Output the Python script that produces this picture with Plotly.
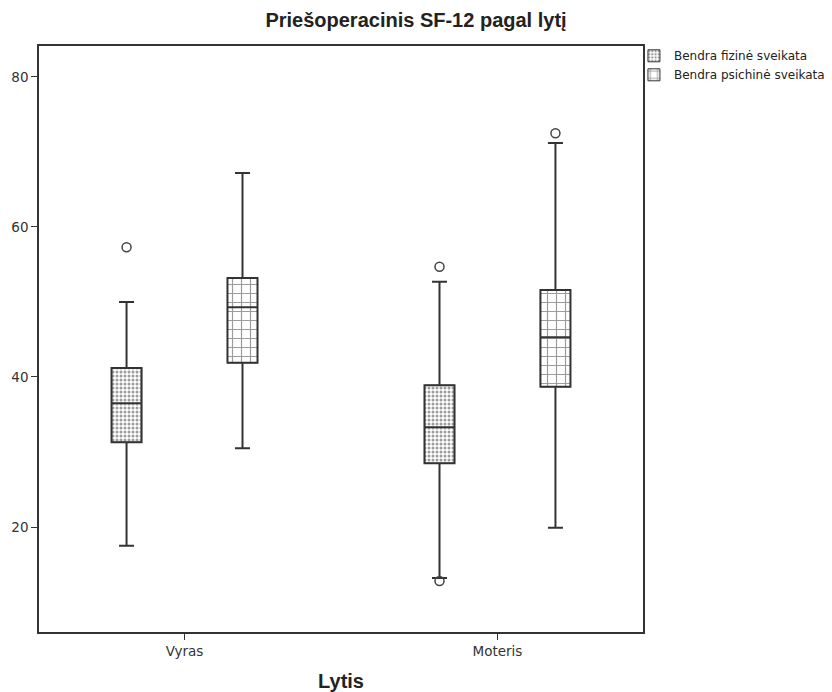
import plotly.graph_objects as go

categories = ["Vyras", "Moteris"]
series_names = ["Bendra fizinė sveikata", "Bendra psichinė sveikata"]

phys_q1 = [31.3, 28.5]
phys_median = [36.5, 33.3]
phys_q3 = [41.2, 38.9]
phys_low = [17.5, 13.2]
phys_up = [50.0, 52.7]
phys_out_x = ["Vyras", "Moteris", "Moteris"]
phys_out_y = [57.3, 54.7, 12.8]

ment_q1 = [41.9, 38.7]
ment_median = [49.3, 45.3]
ment_q3 = [53.2, 51.6]
ment_low = [30.5, 19.9]
ment_up = [67.2, 71.2]
ment_out_x = ["Moteris"]
ment_out_y = [72.5]

y_ticks = [20, 40, 60, 80]

LINE = "#333333"
FONT = "DejaVu Sans, Liberation Sans, Arial, sans-serif"

series = [
    dict(name=series_names[0], q1=phys_q1, med=phys_median, q3=phys_q3, lo=phys_low, up=phys_up,
         ox=phys_out_x, oy=phys_out_y, grp="f", shape=".", psize=4, sol=0.45),
    dict(name=series_names[1], q1=ment_q1, med=ment_median, q3=ment_q3, lo=ment_low, up=ment_up,
         ox=ment_out_x, oy=ment_out_y, grp="m", shape="+", psize=9, sol=0.25),
]

fig = go.Figure()
for s in series:
    fig.add_trace(go.Bar(
        x=categories, y=[b - a for a, b in zip(s["q1"], s["q3"])], base=s["q1"],
        name=s["name"], offsetgroup=s["grp"], showlegend=True,
        marker=dict(color="white", line=dict(color=LINE, width=1),
                    pattern=dict(shape=s["shape"], fgcolor="#3a3a3a", bgcolor="white",
                                 size=s["psize"], solidity=s["sol"], fillmode="overlay")),
        hoverinfo="skip",
    ))
for s in series:
    fig.add_trace(go.Box(
        x=categories, q1=s["q1"], median=s["med"], q3=s["q3"],
        lowerfence=s["lo"], upperfence=s["up"], offsetgroup=s["grp"],
        name=s["name"], showlegend=False, boxpoints=False,
        fillcolor="rgba(0,0,0,0)", line=dict(color=LINE, width=2), whiskerwidth=0.5,
    ))
for s in series:
    fig.add_trace(go.Scatter(
        x=s["ox"], y=s["oy"], mode="markers", offsetgroup=s["grp"], showlegend=False,
        marker=dict(symbol="circle-open", size=9, color="#444444", line=dict(width=1.5)),
    ))

fig.update_layout(
    width=832, height=692,
    margin=dict(l=39, r=189, t=46, b=60, autoexpand=False),
    paper_bgcolor="white", plot_bgcolor="white",
    font=dict(family=FONT, size=12, color="#333333"),
    title=dict(text="<b>Priešoperacinis SF-12 pagal lytį</b>", x=0.5, xanchor="center",
               y=0.971, yanchor="middle",
               font=dict(family="Liberation Sans, Arial, sans-serif", size=20, color="#222222")),
    barmode="group", bargap=0.259, bargroupgap=0.741,
    boxmode="group", boxgap=0.259, boxgroupgap=0.741,
    scattermode="group", scattergap=0.259,
    legend=dict(x=0.985, y=1.008, xanchor="left", yanchor="top",
                font=dict(size=12, color="#222222"),
                bgcolor="rgba(0,0,0,0)", tracegroupgap=0, itemwidth=30),
    showlegend=True,
)
fig.update_xaxes(
    type="category", categoryorder="array", categoryarray=categories,
    range=[-0.465, 1.465], showline=True, linecolor=LINE, linewidth=1.5, mirror=True,
    ticks="outside", ticklen=6, tickcolor=LINE, showgrid=False, zeroline=False,
    title=dict(text="<b>Lytis</b>",
               font=dict(family="Liberation Sans, Arial, sans-serif", size=20, color="#222222"),
               standoff=17),
    tickfont=dict(size=13.5, color="#333333"),
)
fig.update_yaxes(
    range=[6.0, 84.13], tickvals=y_ticks, showline=True, linecolor=LINE, linewidth=1.5, mirror=True,
    ticks="outside", ticklen=6, tickcolor=LINE, showgrid=False, zeroline=False,
    tickfont=dict(size=13.5, color="#333333"),
)

fig.write_html("out.html")
